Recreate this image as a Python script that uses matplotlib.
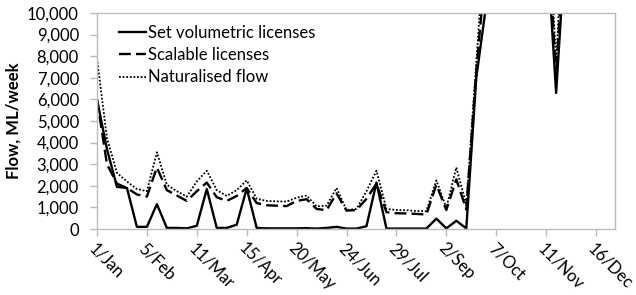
import numpy as np
import matplotlib.pyplot as plt

plt.rcParams['font.family'] = ['Lato', 'DejaVu Sans']

# weekly flows, ML/week (values above 10,000 run off the chart)
set_volumetric = [6000, 3700, 1950, 1900, 100, 100, 1150, 50, 50, 30,
                  150, 1850, 50, 50, 200, 1880, 50, 30, 30, 30,
                  30, 40, 20, 50, 100, 20, 20, 130, 2150, 20,
                  20, 20, 20, 20, 480, 30, 380, 30, 7000, 10400,
                  15000, 15000, 15000, 15000, 15000, 13700, 6300, 13700, 15000, 15000,
                  15000, 15000]
scalable = [6000, 3000, 2100, 1900, 1600, 1500, 2850, 1800, 1550, 1300,
            1750, 2150, 1470, 1300, 1530, 1900, 1200, 1100, 1080, 1060,
            1300, 1380, 930, 870, 1650, 850, 880, 1400, 2100, 780,
            730, 720, 700, 670, 2050, 880, 2300, 900, 7300, 12500,
            18000, 18000, 18000, 18000, 18000, 15000, 7100, 15000, 18000, 18000,
            18000, 18000]
naturalised = [7900, 4200, 2600, 2200, 1850, 1750, 3550, 2050, 1750, 1500,
               2200, 2700, 1800, 1530, 1800, 2250, 1400, 1300, 1280, 1270,
               1450, 1550, 1050, 1080, 1900, 880, 930, 1750, 2700, 930,
               880, 870, 830, 830, 2250, 980, 2850, 1130, 7700, 14500,
               21000, 21000, 21000, 21000, 21000, 16500, 7700, 16500, 21000, 21000,
               21000, 21000]
tick_labels = ['1/Jan', '5/Feb', '11/Mar', '15/Apr', '20/May', '24/Jun',
               '29/Jul', '2/Sep', '7/Oct', '11/Nov', '16/Dec']

weeks = np.arange(len(set_volumetric))

fig = plt.figure(figsize=(6.36, 2.95), dpi=100)
ax = fig.add_axes([0.1525, 0.2237, 0.8145, 0.7323])

ax.plot(weeks, set_volumetric, color='black', lw=1.7, ls='-',
        label='Set volumetric licenses')
ax.plot(weeks, scalable, color='black', lw=1.7, ls=(0, (5, 2.2)),
        label='Scalable licenses')
ax.plot(weeks, naturalised, color='black', lw=1.3, ls=(0, (1, 1)),
        label='Naturalised flow')

ax.set_xlim(0, 51.9)
ax.set_ylim(0, 10000)
ax.set_yticks(np.arange(0, 10001, 1000))
ax.set_yticklabels([f'{v:,}' for v in range(0, 10001, 1000)])
ax.set_xticks(np.arange(0, 51, 5))
ax.set_xticklabels(tick_labels, rotation=-45, ha='left', va='top',
                   rotation_mode='anchor')

for s in ax.spines.values():
    s.set_color('#bcbcbc')
    s.set_linewidth(1.0)
ax.tick_params(axis='both', colors='#bcbcbc', labelcolor='black',
               labelsize=12, length=5, width=1)
ax.tick_params(axis='x', pad=3)
ax.tick_params(axis='y', pad=8)

ax.set_ylabel('Flow, ML/week', fontsize=12, fontweight='bold', labelpad=4)

ax.legend(loc='upper left', bbox_to_anchor=(0.03, 0.975), frameon=False,
          fontsize=12, handlelength=1.6, handletextpad=0.15, labelspacing=0.37,
          borderaxespad=0)

fig.savefig('out.png', dpi=100)
